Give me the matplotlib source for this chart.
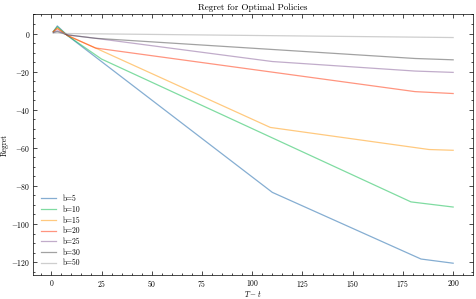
import matplotlib
matplotlib.use("Agg")
import matplotlib.pyplot as plt
from matplotlib.ticker import AutoMinorLocator

# ---------------------------
# Data (piecewise)
# ---------------------------
labels = ["b=5", "b=10", "b=15", "b=20", "b=25", "b=30", "b=50"]

x_b5 = [1, 3, 8, 110, 184, 200]
y_b5 = [1.0, 4.0, -1.0, -83.4, -118.4, -120.6]

x_b10 = [1, 3, 8, 25, 179, 200]
y_b10 = [1.0, 3.5, -1.0, -13.4, -88.4, -91.1]

x_b15 = [1, 3, 8, 22, 109, 188, 200]
y_b15 = [1.0, 3.0, -1.0, -7.6, -49.3, -60.9, -61.3]

x_b20 = [1, 3, 8, 22, 181, 200]
y_b20 = [1.0, 2.5, -1.0, -7.6, -30.5, -31.5]

x_b25 = [1, 3, 8, 22, 110, 181, 200]
y_b25 = [0.5, 1.5, -0.7, -2.5, -14.7, -19.7, -20.4]

x_b30 = [1, 3, 8, 22, 181, 200]
y_b30 = [0.5, 1.0, -0.7, -2.5, -13.1, -13.8]

x_b50 = [1, 3, 8, 200]
y_b50 = [0.2, 0.3, 0.0, -2.1]

xs = [x_b5, x_b10, x_b15, x_b20, x_b25, x_b30, x_b50]
ys = [y_b5, y_b10, y_b15, y_b20, y_b25, y_b30, y_b50]

colors = ["#0C5DA5", "#00B945", "#FF9500", "#FF2C00", "#845B97", "#474747", "#9e9e9e"]

# ---------------------------
# Style (science-like)
# ---------------------------
plt.rcParams.update({
    "font.family": "serif",
    "font.serif": ["cmr10", "DejaVu Serif"],
    "mathtext.fontset": "cm",
    "axes.formatter.use_mathtext": True,
    "font.size": 5.5,
    "axes.linewidth": 0.5,
    "xtick.direction": "in",
    "ytick.direction": "in",
    "xtick.top": True,
    "ytick.right": True,
    "xtick.major.size": 3,
    "ytick.major.size": 3,
    "xtick.minor.size": 1.5,
    "ytick.minor.size": 1.5,
    "xtick.major.width": 0.5,
    "ytick.major.width": 0.5,
    "xtick.minor.width": 0.5,
    "ytick.minor.width": 0.5,
})

fig = plt.figure(figsize=(4.76, 2.99), dpi=100)
ax = fig.add_axes([0.070, 0.080, 0.924, 0.873])

for x, y, lab, c in zip(xs, ys, labels, colors):
    ax.plot(x, y, color=c, alpha=0.5, linewidth=0.9, label=lab)

ax.xaxis.set_minor_locator(AutoMinorLocator())
ax.yaxis.set_minor_locator(AutoMinorLocator())
ax.set_xticks([0, 25, 50, 75, 100, 125, 150, 175, 200])

ax.set_title("Regret for Optimal Policies", pad=3)
ax.set_xlabel("$T - t$", labelpad=0)
ax.set_ylabel("Regret", labelpad=2)
ax.tick_params(axis="both", which="major", pad=2)

ax.legend(loc="lower left", frameon=False, handlelength=2.0, labelspacing=0.3,
          borderaxespad=0.6)

fig.savefig("out.png", dpi=100, facecolor="white")
